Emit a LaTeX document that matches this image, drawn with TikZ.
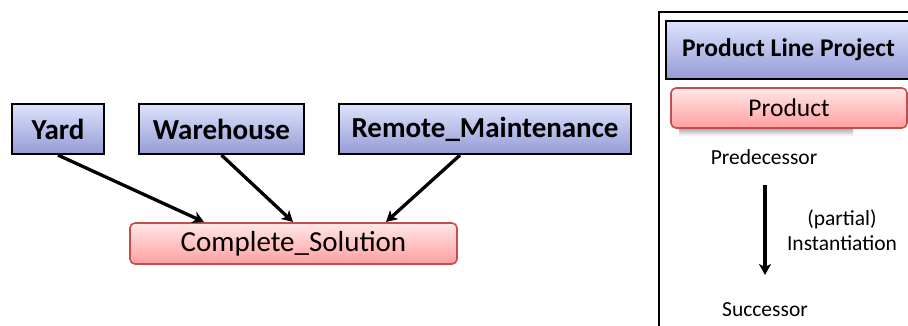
\documentclass[tikz,border=0pt]{standalone}
\usepackage{fontspec}
\setmainfont{Carlito}
\usetikzlibrary{arrows.meta,calc}
\definecolor{boxblueTop}{HTML}{DDE3FB}
\definecolor{boxblueBot}{HTML}{959BD6}
\definecolor{boxredTop}{HTML}{FFE8E8}
\definecolor{boxredBot}{HTML}{FF9E9E}
\definecolor{boxredLine}{HTML}{C0504D}
\tikzset{
  feature/.style={draw=black, line width=2.2pt, top color=boxblueTop, bottom color=boxblueBot,
    minimum height=50pt, inner sep=0pt, font=\fontsize{29}{33}\selectfont\bfseries},
  product/.style={draw=boxredLine, line width=1.6pt, rounded corners=5pt, top color=boxredTop,
    bottom color=boxredBot, inner sep=0pt, font=\fontsize{29}{33}\selectfont},
  derive/.style={-{Stealth[length=11pt,width=12pt,inset=3pt]}, line width=3.3pt, black},
  caption/.style={font=\fontsize{21.5}{26}\selectfont, inner sep=0pt},
}
\begin{document}
\begin{tikzpicture}[x=1pt,y=-1pt]
\useasboundingbox (0,0) rectangle (908,325);
\clip (0,0) rectangle (908,325);

% feature models combined into one solution
\node[feature, minimum width=92pt]  (yard) at (58,129) {Yard};
\node[feature, minimum width=165pt] (ware) at (221.5,129) {Warehouse};
\node[feature, minimum width=292pt] (remote) at (485,129) {Remote\_Maintenance};
\node[product, minimum width=327pt, minimum height=41pt] (solution) at (293.5,243.5) {Complete\_Solution};

\coordinate (inA) at (204,222);
\coordinate (inB) at (293,222);
\coordinate (inC) at (386,222);
\draw[derive] (yard.south) -- (inA);
\draw[derive] (ware.south) -- (inB);
\draw[derive] ($(remote.south)+(-25,0)$) -- (inC);

% legend panel
\draw[line width=2.6pt] (659,12) rectangle (930,340);
\node[feature, minimum width=245pt, minimum height=58pt, font=\fontsize{25.5}{30}\selectfont\bfseries]
  (plp) at (788.5,50) {Product Line Project};
\shade[top color=black!35, bottom color=white] (679,128) rectangle (853,136);
\node[product, minimum width=236pt, minimum height=40pt, font=\fontsize{25.5}{30}\selectfont]
  (prod) at (789,108) {Product};
\node[caption] (pred) at (764,157) {Predecessor};
\node[caption] (succ) at (765,310) {Successor};
\coordinate (arrTop) at (765,185);
\coordinate (arrEnd) at (765,275);
\draw[derive] (arrTop) -- (arrEnd);
\node[caption, align=center, font=\fontsize{21.5}{25}\selectfont] (inst) at (842,230) {(partial)\\Instantiation};
\end{tikzpicture}
\end{document}
